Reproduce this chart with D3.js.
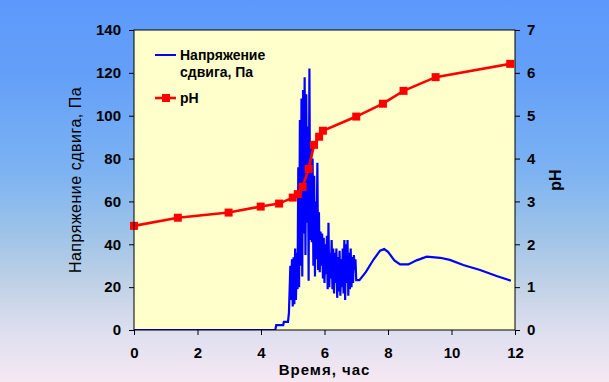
<!DOCTYPE html>
<html><head><meta charset="utf-8">
<script src="https://cdn.jsdelivr.net/npm/d3@7"></script>
<style>
html,body{margin:0;padding:0;overflow:hidden;}
svg{display:block;}
</style>
</head><body>
<svg id="chart" width="609" height="382"></svg>
<script>
// ---- data ----
const timeTicks = [0, 2, 4, 6, 8, 10, 12];
const stressTicks = [0, 20, 40, 60, 80, 100, 120, 140];
const phTicks = [0, 1, 2, 3, 4, 5, 6, 7];

const phTime = [0, 1.38, 2.98, 3.99, 4.57, 5.0, 5.16, 5.31, 5.50, 5.67, 5.83, 5.95, 7.0, 7.84, 8.49, 9.50, 11.85];
const phValue = [2.43, 2.62, 2.74, 2.88, 2.95, 3.09, 3.17, 3.34, 3.76, 4.32, 4.51, 4.65, 4.98, 5.28, 5.58, 5.90, 6.21];

const stressTime = [0, 4.45, 4.48, 4.70, 4.72, 4.85, 4.88, 4.90,
  4.925, 4.95, 4.975, 5.00, 5.025, 5.05, 5.075, 5.10, 5.125, 5.15,
  5.175, 5.20, 5.225, 5.25, 5.275, 5.30, 5.325, 5.35, 5.375, 5.40,
  5.425, 5.45, 5.475, 5.50, 5.525, 5.55, 5.575, 5.60, 5.625, 5.65,
  5.675, 5.70, 5.725, 5.75, 5.775, 5.80, 5.825, 5.85, 5.875, 5.90,
  5.925, 5.95, 5.975, 6.00, 6.025, 6.05, 6.075, 6.10, 6.125, 6.15,
  6.175, 6.20, 6.225, 6.25, 6.275, 6.30, 6.325, 6.35, 6.375, 6.40,
  6.425, 6.45, 6.475, 6.50, 6.525, 6.55, 6.575, 6.60, 6.625, 6.65,
  6.675, 6.70, 6.725, 6.75, 6.775, 6.80, 6.825, 6.85, 6.875, 6.90,
  6.925, 6.95, 6.975, 7.00, 7.10, 7.30, 7.55, 7.75, 7.88, 8.00,
  8.20, 8.38, 8.64, 8.90, 9.22, 9.64, 9.95, 10.37, 10.90, 11.42, 11.87];
const stressValue = [0, 0, 2.3, 2.3, 3.8, 3.8, 8, 18,
  30, 14, 33, 11, 34, 12, 38, 14, 36, 19,
  76, 20, 98, 30, 108, 25, 112, 45, 118, 35,
  110, 50, 95, 23, 122, 42, 88, 41, 80, 30,
  72, 25, 60, 33, 78, 28, 55, 27, 46, 30,
  45, 24, 43, 22, 40, 26, 44, 19, 50, 20,
  36, 24, 42, 19, 38, 17, 36, 22, 38, 15,
  34, 18, 37, 16, 33, 20, 38, 17, 42, 14,
  40, 22, 42, 16, 36, 19, 38, 20, 34, 22,
  35, 28, 33, 23.3, 23.3, 27, 33, 37, 37.8, 36.5,
  32.5, 30.6, 30.6, 32.5, 34.2, 33.7, 32.7, 30.3, 28, 25.2, 23];

const legendStress = ["Напряжение", "сдвига, Па"];
const legendPh = "pH";
const xTitle = "Время, час";
const yTitle = "Напряжение сдвига, Па";
const y2Title = "pH";

// ---- layout ----
const svg = d3.select("#chart");
const W = 609, H = 382;
const L = 134, R = 515, T = 30, B = 330;
const FONT = "'Liberation Sans', Arial, sans-serif";

const defs = svg.append("defs");
const grad = defs.append("linearGradient").attr("id", "bg").attr("x1", 0).attr("y1", 0).attr("x2", 0).attr("y2", 1);
[[0, "#5d99fa"], [0.2, "#64a0f8"], [0.45, "#7db3f2"], [0.62, "#a0c4e8"], [0.75, "#c2d2e6"], [0.88, "#e0e0f0"], [1, "#f6e8f2"]]
  .forEach(([o, c]) => grad.append("stop").attr("offset", o).attr("stop-color", c));
svg.append("rect").attr("width", W).attr("height", H).attr("fill", "url(#bg)");

const x = d3.scaleLinear().domain([0, 12]).range([L, R]);
const y = d3.scaleLinear().domain([0, 140]).range([B, T]);
const y2 = d3.scaleLinear().domain([0, 7]).range([B, T]);

svg.append("rect").attr("x", L).attr("y", T).attr("width", R - L).attr("height", B - T)
  .attr("fill", "#ffffcc");

const clip = defs.append("clipPath").attr("id", "clip");
clip.append("rect").attr("x", L).attr("y", T - 2).attr("width", R - L).attr("height", B - T + 2);

// stress line
const stressData = stressTime.map((t, i) => [t, stressValue[i]]);
svg.append("path").datum(stressData)
  .attr("clip-path", "url(#clip)")
  .attr("fill", "none").attr("stroke", "#0000ff").attr("stroke-width", 2.2)
  .attr("stroke-linejoin", "miter").attr("stroke-miterlimit", 2)
  .attr("d", d3.line().x(d => x(d[0])).y(d => y(d[1])));

// pH line
const phData = phTime.map((t, i) => [t, phValue[i]]);
svg.append("path").datum(phData)
  .attr("fill", "none").attr("stroke", "#ff0000").attr("stroke-width", 2.6)
  .attr("d", d3.line().x(d => x(d[0])).y(d => y2(d[1])));
svg.selectAll("rect.m").data(phData).enter().append("rect").attr("class", "m")
  .attr("x", d => x(d[0]) - 4).attr("y", d => y2(d[1]) - 4)
  .attr("width", 8).attr("height", 8).attr("fill", "#ff0000");

// frame
svg.append("rect").attr("x", L).attr("y", T).attr("width", R - L).attr("height", B - T)
  .attr("fill", "none").attr("stroke", "#000").attr("stroke-width", 1);

function styleAxis(g) {
  g.selectAll("path").remove();
  g.selectAll("line").attr("stroke", "#000");
  g.selectAll("text").attr("font-family", FONT).attr("font-size", 15).attr("font-weight", "bold").attr("fill", "#000");
}
svg.append("g").attr("transform", `translate(0,${B})`)
  .call(d3.axisBottom(x).tickValues(timeTicks).tickSize(5).tickPadding(12).tickFormat(d3.format("d")))
  .call(styleAxis);
svg.append("g").attr("transform", `translate(${L},0)`)
  .call(d3.axisLeft(y).tickValues(stressTicks).tickSize(5).tickPadding(8).tickFormat(d3.format("d")))
  .call(styleAxis);
svg.append("g").attr("transform", `translate(${R},0)`)
  .call(d3.axisRight(y2).tickValues(phTicks).tickSize(5).tickPadding(7).tickFormat(d3.format("d")))
  .call(styleAxis);

// titles
svg.append("text").attr("x", (L + R) / 2).attr("y", 375).attr("text-anchor", "middle")
  .attr("font-family", FONT).attr("font-size", 15).attr("font-weight", "bold")
  .attr("letter-spacing", 1).text(xTitle);
svg.append("text").attr("transform", `translate(81,${(T + B) / 2}) rotate(-90)`).attr("text-anchor", "middle")
  .attr("font-family", FONT).attr("font-size", 16).attr("letter-spacing", 0.5).text(yTitle);
svg.append("text").attr("transform", `translate(561,${(T + B) / 2}) rotate(-90)`).attr("text-anchor", "middle")
  .attr("font-family", FONT).attr("font-size", 16).attr("font-weight", "bold").text(y2Title);

// legend
const lg = svg.append("g");
lg.append("line").attr("x1", 155).attr("x2", 176).attr("y1", 55).attr("y2", 55).attr("stroke", "#0000ff").attr("stroke-width", 2);
lg.append("text").attr("x", 180).attr("y", 60).attr("font-family", FONT).attr("font-size", 14).attr("font-weight", "bold").text(legendStress[0]);
lg.append("text").attr("x", 180).attr("y", 77).attr("font-family", FONT).attr("font-size", 14).attr("font-weight", "bold").text(legendStress[1]);
lg.append("line").attr("x1", 155).attr("x2", 176).attr("y1", 98).attr("y2", 98).attr("stroke", "#ff0000").attr("stroke-width", 2.6);
lg.append("rect").attr("x", 162).attr("y", 94).attr("width", 8).attr("height", 8).attr("fill", "#ff0000");
lg.append("text").attr("x", 180).attr("y", 103).attr("font-family", FONT).attr("font-size", 14).attr("font-weight", "bold").text(legendPh);
</script>
</body></html>
